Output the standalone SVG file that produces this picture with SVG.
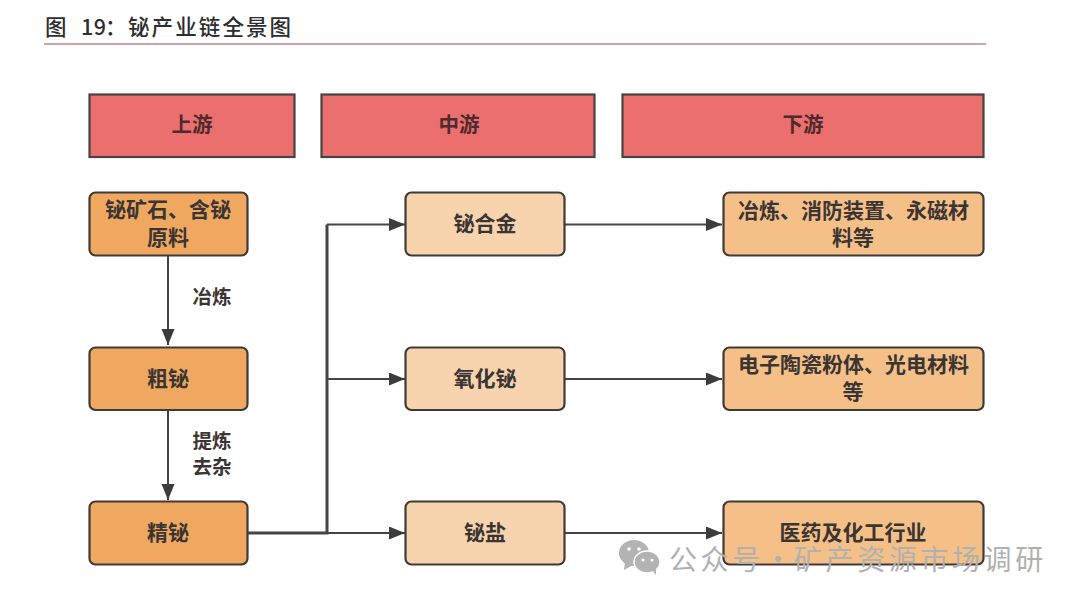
<svg xmlns="http://www.w3.org/2000/svg" width="1080" height="602" viewBox="0 0 1080 602">
<style>
text{font-family:"Noto Sans CJK SC","Liberation Sans",sans-serif;text-anchor:middle;fill:#3a3533;font-weight:700;font-size:21px}
.t{font-weight:500;text-anchor:start;font-size:21.500px;fill:#2e2e2e}
.lab{font-size:19.500px}
.h rect{fill:#ec6f6f;stroke:#444;stroke-width:2.2}
.h text{font-size:20.500px;fill:#4e2a2b}
.a rect{fill:#f0a860;stroke:#3e3a38;stroke-width:2.2}
.b rect{fill:#f7d3ae;stroke:#3e3a38;stroke-width:2.2}
.c rect{fill:#f5bf88;stroke:#3e3a38;stroke-width:2.2}
.l{fill:none;stroke:#444;stroke-width:2;marker-end:url(#ah)}
.n{fill:none;stroke:#444;stroke-width:3}
.wm{fill:#b0b0b0;font-weight:400;font-size:28px;text-anchor:start;letter-spacing:3.600px}
</style>
<defs><marker id="ah" markerUnits="userSpaceOnUse" markerWidth="18" markerHeight="14" refX="16" refY="6.5" orient="auto"><path d="M0 0L16 6.5L0 13Z" fill="#3c3c3c"/></marker></defs>
<rect width="1080" height="602" fill="#fff"/>
<g id="title"><text class="t" y="35"><tspan x="45">图</tspan><tspan x="81" letter-spacing="0.5">19</tspan><tspan x="105">：</tspan><tspan x="128" letter-spacing="2.1">铋产业链全景图</tspan></text><line x1="44" y1="44" x2="986" y2="44" stroke="#a8454a" stroke-width="1"/></g>
<g id="connectors">
<path class="l" d="M168 256V345"/>
<path class="l" d="M168 410V500"/>
<path class="n" d="M248 533H327V224.500"/>
<path class="l" d="M327 224.500H405"/>
<path class="l" d="M327 379H405"/>
<path class="l" d="M327 533H405"/>
<path class="l" d="M565 224.500H722"/>
<path class="l" d="M565 379H722"/>
<path class="l" d="M565 533H722"/>
</g>
<g id="label-smelt"><text class="lab" x="212" y="304">冶炼</text></g>
<g id="label-refine"><text class="lab" x="212" y="448">提炼</text><text class="lab" x="212" y="474">去杂</text></g>
<g id="h1" class="h"><rect x="89.500" y="94.500" width="205" height="62.500"/><text x="192" y="132">上游</text></g>
<g id="h2" class="h"><rect x="321.500" y="94.500" width="273" height="62.500"/><text x="459" y="132">中游</text></g>
<g id="h3" class="h"><rect x="622.500" y="94.500" width="361" height="62.500"/><text x="803" y="132">下游</text></g>
<g id="n1" class="a"><rect x="89.500" y="192.500" width="158" height="63" rx="6"/><text x="168" y="217">铋矿石、含铋</text><text x="168" y="245">原料</text></g>
<g id="n2" class="a"><rect x="89.500" y="347.500" width="158" height="62.500" rx="6"/><text x="168" y="386">粗铋</text></g>
<g id="n3" class="a"><rect x="89.500" y="501.500" width="158" height="63" rx="6"/><text x="168" y="540">精铋</text></g>
<g id="m1" class="b"><rect x="405.500" y="192.500" width="159" height="63" rx="6"/><text x="485" y="231">铋合金</text></g>
<g id="m2" class="b"><rect x="405.500" y="347.500" width="159" height="62.500" rx="6"/><text x="485" y="386">氧化铋</text></g>
<g id="m3" class="b"><rect x="405.500" y="501.500" width="159" height="63" rx="6"/><text x="485" y="540">铋盐</text></g>
<g id="d1" class="c"><rect x="723.500" y="192.500" width="260" height="63" rx="6"/><text x="853.500" y="218">冶炼、消防装置、永磁材</text><text x="853" y="245">料等</text></g>
<g id="d2" class="c"><rect x="723.500" y="347.500" width="260" height="62.500" rx="6"/><text x="853.500" y="372">电子陶瓷粉体、光电材料</text><text x="853" y="399">等</text></g>
<g id="d3" class="c"><rect x="723.500" y="501.500" width="260" height="63" rx="6"/><text x="853" y="540">医药及化工行业</text></g>
<g id="watermark">
<ellipse cx="634" cy="553" rx="15" ry="13" fill="#b3b3b3"/><path d="M625 562L624 570L633 565Z" fill="#b3b3b3"/>
<ellipse cx="647" cy="562" rx="13" ry="11" fill="#b3b3b3" stroke="#fff" stroke-width="1.500"/><path d="M652 570L656 575L656 567Z" fill="#b3b3b3"/>
<circle cx="629" cy="549" r="1.800" fill="#fff"/><circle cx="639" cy="549" r="1.800" fill="#fff"/><circle cx="643" cy="560" r="1.500" fill="#fff"/><circle cx="652" cy="560" r="1.500" fill="#fff"/>
<text class="wm" y="570"><tspan x="669">公众号</tspan><tspan x="764">·</tspan><tspan x="794">矿产资源市场调研</tspan></text>
</g>
</svg>
